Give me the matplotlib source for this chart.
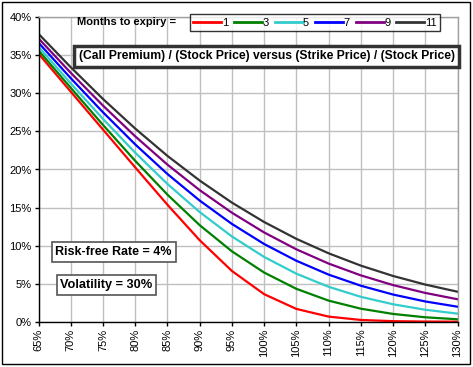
import matplotlib
matplotlib.use("Agg")
import matplotlib.pyplot as plt
from matplotlib.ticker import PercentFormatter, MultipleLocator
from matplotlib.patches import Rectangle

plt.rcParams['font.family'] = ['Liberation Sans', 'DejaVu Sans']

# Strike / Stock price ratio
strike_ratio = [0.65, 0.70, 0.75, 0.80, 0.85, 0.90, 0.95, 1.00, 1.05, 1.10, 1.15, 1.20, 1.25, 1.30]

# Call premium / Stock price, per months to expiry
m1 = [0.3522, 0.3023, 0.2525, 0.2028, 0.1537, 0.1071, 0.0667, 0.0362, 0.0168, 0.0067, 0.0023, 0.0007, 0.0002, 0.0001]
m3 = [0.3565, 0.3073, 0.2586, 0.2114, 0.1670, 0.1269, 0.0925, 0.0646, 0.0432, 0.0277, 0.0171, 0.0102, 0.0058, 0.0032]
m5 = [0.3613, 0.3132, 0.2665, 0.2221, 0.1810, 0.1441, 0.1120, 0.0851, 0.0631, 0.0459, 0.0327, 0.0229, 0.0157, 0.0106]
m7 = [0.3666, 0.3200, 0.2752, 0.2330, 0.1941, 0.1592, 0.1285, 0.1021, 0.0801, 0.0619, 0.0473, 0.0357, 0.0266, 0.0197]
m9 = [0.3723, 0.3271, 0.2840, 0.2436, 0.2064, 0.1729, 0.1432, 0.1173, 0.0951, 0.0764, 0.0609, 0.0481, 0.0378, 0.0295]
m11 = [0.3783, 0.3344, 0.2927, 0.2538, 0.2179, 0.1855, 0.1565, 0.1310, 0.1089, 0.0899, 0.0737, 0.0601, 0.0488, 0.0394]

series_labels = ['1', '3', '5', '7', '9', '11']
series_values = [m1, m3, m5, m7, m9, m11]
series_colors = ['#FF0000', '#008000', '#33CCCC', '#0000FF', '#800080', '#333333']

W, H = 473, 367
fig = plt.figure(figsize=(W / 100, H / 100), dpi=100)
fig.patch.set_facecolor('white')

def fx(px):
    return px / W

def fy(py):
    return 1 - py / H

ax = fig.add_axes([fx(38.5), fy(321.7), fx(457.5) - fx(38.5), fy(17.3) - fy(321.7)])

handles = []
for lab, vals, col in zip(series_labels, series_values, series_colors):
    h, = ax.plot(strike_ratio, vals, color=col, lw=1.6, label=lab, solid_joinstyle='round')
    handles.append(h)

ax.set_xlim(0.65, 1.30)
ax.set_ylim(0, 0.40)
ax.xaxis.set_major_locator(MultipleLocator(0.05))
ax.yaxis.set_major_locator(MultipleLocator(0.05))
ax.xaxis.set_major_formatter(PercentFormatter(1.0, decimals=0))
ax.yaxis.set_major_formatter(PercentFormatter(1.0, decimals=0))
ax.grid(True, color='#C0C0C0', lw=1.0)
ax.set_axisbelow(True)
for s in ['top', 'right']:
    ax.spines[s].set_color('#A0A0A0')
    ax.spines[s].set_linewidth(1.0)
for s in ['left', 'bottom']:
    ax.spines[s].set_color('black')
    ax.spines[s].set_linewidth(1.0)
ax.tick_params(axis='both', direction='out', length=3, width=1, colors='black', labelsize=8)
ax.tick_params(axis='x', labelrotation=90, pad=2)
ax.tick_params(axis='y', pad=2)

# outer border
fig.patches.append(Rectangle((fx(2), fy(364)), fx(470) - fx(2), fy(2) - fy(364),
                             transform=fig.transFigure, fill=False, ec='black', lw=1.0))

# legend
fig.text(fx(77), fy(22), 'Months to expiry =', fontsize=8, fontweight='bold', va='center', ha='left')
leg = fig.legend(handles=handles, labels=series_labels, loc='center left',
                 bbox_to_anchor=(fx(190), fy(22.5)), ncol=6, frameon=True, fancybox=False,
                 edgecolor='black', fontsize=8, handlelength=2.5, handletextpad=0.05,
                 columnspacing=0.55, borderpad=0.3, borderaxespad=0)
leg.get_frame().set_linewidth(1.0)
for lh in leg.get_lines():
    lh.set_linewidth(2)

# title box
fig.text(fx(266.5), fy(56.5), '(Call Premium) / (Stock Price) versus (Strike Price) / (Stock Price)',
         fontsize=8.7, fontweight='bold', ha='center', va='center',
         bbox=dict(boxstyle='square,pad=0.4', fc='white', ec='#333333', lw=2.5))

# parameter boxes
fig.text(fx(113.5), fy(252), 'Risk-free Rate = 4%', fontsize=9, fontweight='bold', ha='center', va='center',
         bbox=dict(boxstyle='square,pad=0.3', fc='white', ec='#555555', lw=1.2))
fig.text(fx(106.5), fy(285), 'Volatility = 30%', fontsize=9.2, fontweight='bold', ha='center', va='center',
         bbox=dict(boxstyle='square,pad=0.3', fc='white', ec='#555555', lw=1.2))

fig.savefig('out.png', dpi=100)
